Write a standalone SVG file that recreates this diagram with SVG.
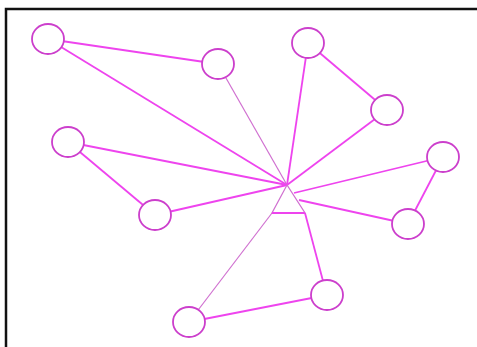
<svg xmlns="http://www.w3.org/2000/svg" width="477" height="347" viewBox="0 0 477 347">
<style>
.n{fill:#fff;stroke:#cc3fcc;stroke-width:1.8}
.e{stroke:#ee44ee;stroke-width:1.8;fill:none}
.t{stroke:#d070d0;stroke-width:1.2;fill:none}
</style>
<rect width="477" height="347" fill="#fff"/>
<path d="M6 347V9H477" fill="none" stroke="#111" stroke-width="2.5"/>
<g id="connectors">
<line class="e" x1="48" y1="39" x2="218" y2="64"/>
<line class="e" x1="48" y1="39" x2="287" y2="185"/>
<line class="t" x1="218" y1="64" x2="287" y2="185"/>
<line class="e" x1="68" y1="142" x2="287" y2="185"/>
<line class="e" x1="68" y1="142" x2="155" y2="215"/>
<line class="e" x1="155" y1="215" x2="287" y2="185"/>
<line class="e" x1="308" y1="43" x2="287" y2="185"/>
<line class="e" x1="308" y1="43" x2="387" y2="110"/>
<line class="e" x1="387" y1="110" x2="287" y2="185"/>
<line class="e" x1="443" y1="157" x2="294" y2="193"/>
<line class="e" x1="443" y1="157" x2="408" y2="224"/>
<line class="e" x1="408" y1="224" x2="299" y2="200"/>
<line class="e" x1="189" y1="322" x2="327" y2="295"/>
<line class="t" x1="189" y1="322" x2="272" y2="213"/>
<line class="e" x1="305" y1="213" x2="323" y2="281"/>
<path class="t" d="M287 185L272 213H305Z"/>
<line class="e" x1="272" y1="213" x2="305" y2="213"/>
</g>
<g id="n1"><ellipse class="n" cx="48" cy="39" rx="16" ry="15"/></g>
<g id="n2"><ellipse class="n" cx="218" cy="64" rx="16" ry="15"/></g>
<g id="n3"><ellipse class="n" cx="68" cy="142" rx="16" ry="15"/></g>
<g id="n4"><ellipse class="n" cx="308" cy="43" rx="16" ry="15"/></g>
<g id="n5"><ellipse class="n" cx="387" cy="110" rx="16" ry="15"/></g>
<g id="n6"><ellipse class="n" cx="443" cy="157" rx="16" ry="15"/></g>
<g id="n7"><ellipse class="n" cx="155" cy="215" rx="16" ry="15"/></g>
<g id="n8"><ellipse class="n" cx="189" cy="322" rx="16" ry="15"/></g>
<g id="n9"><ellipse class="n" cx="408" cy="224" rx="16" ry="15"/></g>
<g id="n10"><ellipse class="n" cx="327" cy="295" rx="16" ry="15"/></g>
</svg>
